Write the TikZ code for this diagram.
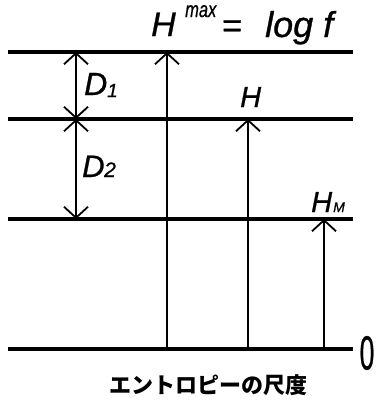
\documentclass[tikz,border=0pt]{standalone}
\usepackage{fontspec}
\setmainfont{Liberation Sans}
\newfontfamily\labfont{Liberation Sans}[FakeBold=0.8]
\newfontfamily\cjk{Noto Sans CJK JP}
\usetikzlibrary{arrows.meta}
\tikzset{
  level/.style={line width=3.4pt},
  vline/.style={line width=1.8pt},
  tip/.tip={Straight Barb[length=11pt,width=24pt,line width=1.8pt]},
  arr/.style={vline, -tip},
  darr/.style={vline, tip-tip},
  lab/.style={inner sep=0pt, anchor=base west},
  fbig/.style={font=\labfont\itshape\fontsize{34}{36}\selectfont},
  fmid/.style={font=\labfont\itshape\fontsize{29}{32}\selectfont},
}
\begin{document}
\begin{tikzpicture}[x=1pt,y=-1pt]
\useasboundingbox (0,0) rectangle (377,407);
% levels
\coordinate (l1w) at (8,52);  \coordinate (l1e) at (353,52);
\coordinate (l2w) at (8,119); \coordinate (l2e) at (353,119);
\coordinate (l3w) at (8,219); \coordinate (l3e) at (353,219);
\coordinate (l0w) at (8,349); \coordinate (l0e) at (353,349);
\draw[level] (l1w) -- (l1e);
\draw[level] (l2w) -- (l2e);
\draw[level] (l3w) -- (l3e);
\draw[level] (l0w) -- (l0e);
% D arrows
\coordinate (d1t) at (76,52);
\coordinate (d1b) at (76,119);
\coordinate (d2b) at (76,219);
\draw[darr] (d1b) -- (d1t);
\draw[darr] (d1b) -- (d2b);
% H arrows
\coordinate (hmaxb) at (167,349); \coordinate (hmaxt) at (167,52);
\coordinate (hb) at (248,349);    \coordinate (ht) at (248,119);
\coordinate (hmb) at (324,349);   \coordinate (hmt) at (324,219);
\draw[arr] (hmaxb) -- (hmaxt);
\draw[arr] (hb) -- (ht);
\draw[arr] (hmb) -- (hmt);
% labels
\node[lab, fbig] (hmax) at (151,36) {H};
\node[lab, font=\labfont\itshape\fontsize{22}{24}\selectfont] (max) at (185,17) {\scalebox{0.75}[1]{max}};
\node[lab, font=\labfont\fontsize{34}{36}\selectfont] (eq) at (222,37) {=};
\node[lab, font=\labfont\itshape\fontsize{36}{38}\selectfont] (logf) at (265,37) {log f};
\node[lab, font=\labfont\itshape\fontsize{32}{34}\selectfont] (d1) at (84,95) {D};
\node[lab, font=\labfont\itshape\fontsize{19}{21}\selectfont] (d1s) at (107,97) {1};
\node[lab, font=\labfont\itshape\fontsize{31}{34}\selectfont] (d2) at (82,177) {D};
\node[lab, font=\labfont\itshape\fontsize{21}{23}\selectfont] (d2s) at (104,177) {2};
\node[lab, fmid] (h) at (240,107) {H};
\node[lab, fmid] (hm) at (311,212) {H};
\node[lab, font=\labfont\itshape\fontsize{14}{16}\selectfont] (hms) at (333,212) {M};
\node[inner sep=0pt, font=\labfont\fontsize{48}{50}\selectfont] (zero) at (367,353) {\scalebox{0.55}[1]{0}};
\node[inner sep=0pt, font=\cjk\bfseries\fontsize{22}{24}\selectfont] (title) at (208,385) {エントロピーの尺度};
\end{tikzpicture}
\end{document}
